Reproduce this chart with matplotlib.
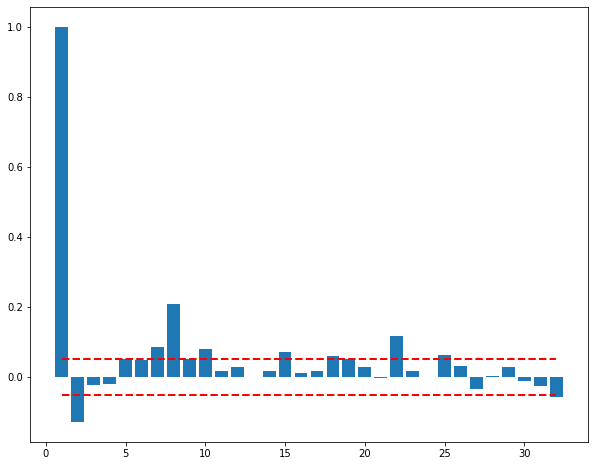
import numpy as np
from matplotlib import pyplot as plt

lags = list(range(1, 33))
acf_vals = [1.0, -0.128, -0.022, -0.019, 0.052, 0.049, 0.086, 0.209,
            0.052, 0.080, 0.017, 0.029, 0.0, 0.017, 0.072, 0.011,
            0.017, 0.060, 0.051, 0.029, -0.003, 0.117, 0.017, 0.0,
            0.063, 0.031, -0.034, 0.003, 0.029, -0.009, -0.026, -0.057]
conf = 0.051

fig = plt.figure(figsize=(595 / 72, 466 / 72), dpi=72)
ax = fig.add_axes([30 / 595, 24 / 466, 558 / 595, 435 / 466])

ax.bar(lags, acf_vals, color='#1f77b4')
ax.hlines([conf, -conf], lags[0], lags[-1], colors='red', linestyles='--', linewidth=2)

fig.savefig('out.png', dpi=72)
